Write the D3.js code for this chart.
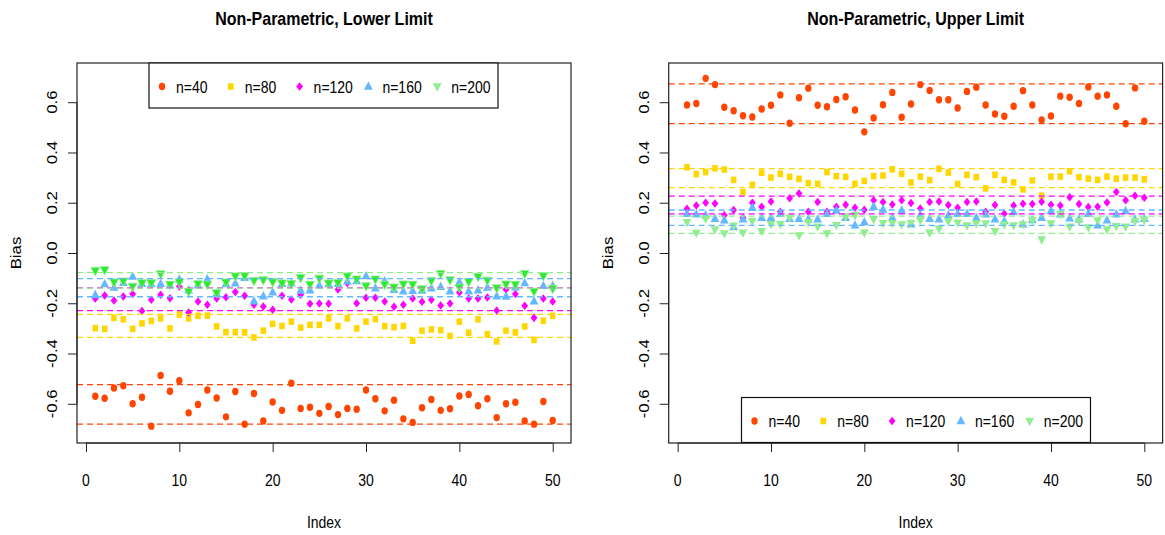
<!DOCTYPE html>
<html>
<head>
<meta charset="utf-8">
<script src="https://cdn.jsdelivr.net/npm/d3@7"></script>
<style>
  body { margin: 0; background: #fff; }
  text { font-family: "Liberation Sans", Arial, Helvetica, sans-serif; fill: #000; }
</style>
</head>
<body>
<svg id="chart" width="1165" height="535"></svg>
<script>
// ---- data ----
const indexValues = d3.range(1, 51);
const seriesNames = ["n=40", "n=80", "n=120", "n=160", "n=200"];
const xTicks = [0, 10, 20, 30, 40, 50];
const yTicks = [-0.6, -0.4, -0.2, 0.0, 0.2, 0.4, 0.6];

// Lower limit bias by replicate
const lowerN40 = [-0.570,-0.578,-0.537,-0.528,-0.600,-0.574,-0.689,-0.487,-0.550,-0.508,
                  -0.636,-0.603,-0.545,-0.577,-0.652,-0.551,-0.681,-0.559,-0.668,-0.593,
                  -0.626,-0.518,-0.619,-0.614,-0.638,-0.611,-0.643,-0.619,-0.622,-0.545,
                  -0.580,-0.628,-0.586,-0.660,-0.674,-0.616,-0.583,-0.626,-0.620,-0.569,
                  -0.563,-0.608,-0.580,-0.655,-0.600,-0.594,-0.668,-0.681,-0.591,-0.666];
const lowerN80 = [-0.299,-0.302,-0.258,-0.264,-0.302,-0.280,-0.270,-0.260,-0.300,-0.245,
                  -0.260,-0.250,-0.249,-0.292,-0.315,-0.315,-0.316,-0.336,-0.309,-0.282,
                  -0.290,-0.273,-0.297,-0.286,-0.286,-0.260,-0.291,-0.260,-0.300,-0.273,
                  -0.263,-0.291,-0.295,-0.290,-0.349,-0.309,-0.304,-0.307,-0.330,-0.273,
                  -0.317,-0.264,-0.323,-0.352,-0.309,-0.316,-0.292,-0.346,-0.270,-0.250];
const lowerN120 = [-0.181,-0.169,-0.189,-0.173,-0.163,-0.231,-0.186,-0.166,-0.180,-0.133,
                   -0.237,-0.193,-0.206,-0.181,-0.176,-0.155,-0.170,-0.206,-0.213,-0.226,
                   -0.170,-0.185,-0.166,-0.202,-0.201,-0.202,-0.145,-0.119,-0.200,-0.178,
                   -0.178,-0.193,-0.214,-0.206,-0.181,-0.194,-0.186,-0.209,-0.201,-0.157,
                   -0.181,-0.181,-0.177,-0.229,-0.145,-0.163,-0.210,-0.258,-0.181,-0.193];
const lowerN160 = [-0.167,-0.124,-0.137,-0.119,-0.094,-0.123,-0.124,-0.123,-0.129,-0.105,
                   -0.148,-0.129,-0.104,-0.161,-0.124,-0.121,-0.099,-0.192,-0.172,-0.156,
                   -0.123,-0.121,-0.149,-0.148,-0.129,-0.124,-0.123,-0.113,-0.112,-0.092,
                   -0.140,-0.112,-0.146,-0.152,-0.150,-0.149,-0.140,-0.134,-0.152,-0.116,
                   -0.152,-0.148,-0.137,-0.172,-0.173,-0.136,-0.120,-0.192,-0.131,-0.131];
const lowerN200 = [-0.070,-0.067,-0.116,-0.112,-0.133,-0.119,-0.119,-0.083,-0.125,-0.115,
                   -0.153,-0.123,-0.125,-0.159,-0.116,-0.092,-0.091,-0.110,-0.107,-0.115,
                   -0.120,-0.122,-0.098,-0.125,-0.101,-0.120,-0.118,-0.092,-0.104,-0.131,
                   -0.104,-0.125,-0.136,-0.124,-0.125,-0.143,-0.110,-0.082,-0.107,-0.137,
                   -0.114,-0.094,-0.109,-0.139,-0.124,-0.125,-0.082,-0.153,-0.091,-0.141];

// Upper limit bias by replicate
const upperN40 = [0.589,0.595,0.695,0.670,0.580,0.566,0.546,0.541,0.573,0.588,
                  0.629,0.516,0.618,0.656,0.588,0.582,0.611,0.622,0.569,0.482,
                  0.537,0.590,0.639,0.540,0.593,0.670,0.647,0.610,0.610,0.577,
                  0.643,0.660,0.589,0.553,0.544,0.584,0.646,0.589,0.529,0.545,
                  0.624,0.620,0.595,0.661,0.624,0.629,0.584,0.514,0.657,0.524];
const upperN80 = [0.341,0.314,0.322,0.337,0.332,0.291,0.242,0.271,0.319,0.300,
                  0.315,0.303,0.295,0.278,0.275,0.322,0.306,0.303,0.275,0.287,
                  0.306,0.308,0.333,0.315,0.281,0.304,0.290,0.335,0.320,0.275,
                  0.311,0.302,0.257,0.311,0.291,0.281,0.253,0.289,0.228,0.304,
                  0.304,0.325,0.302,0.296,0.291,0.304,0.296,0.300,0.300,0.293];
const upperN120 = [0.176,0.189,0.200,0.197,0.150,0.171,0.140,0.200,0.184,0.205,
                   0.164,0.218,0.237,0.164,0.203,0.164,0.184,0.192,0.180,0.172,
                   0.210,0.203,0.193,0.210,0.199,0.177,0.203,0.205,0.191,0.180,
                   0.203,0.205,0.164,0.191,0.156,0.189,0.196,0.195,0.204,0.192,
                   0.189,0.222,0.195,0.183,0.184,0.201,0.243,0.210,0.228,0.220];
const upperN160 = [0.156,0.154,0.150,0.136,0.130,0.103,0.134,0.180,0.140,0.140,
                   0.156,0.136,0.136,0.134,0.134,0.156,0.169,0.140,0.110,0.123,
                   0.184,0.173,0.140,0.169,0.114,0.150,0.136,0.134,0.150,0.156,
                   0.156,0.140,0.154,0.134,0.127,0.163,0.114,0.131,0.140,0.167,
                   0.154,0.138,0.134,0.156,0.110,0.130,0.154,0.167,0.134,0.136];
const upperN200 = [0.123,0.080,0.136,0.094,0.078,0.109,0.081,0.127,0.087,0.115,
                   0.115,0.140,0.070,0.123,0.105,0.078,0.111,0.144,0.150,0.081,
                   0.134,0.119,0.119,0.114,0.119,0.131,0.081,0.097,0.127,0.121,
                   0.110,0.118,0.118,0.087,0.114,0.110,0.114,0.130,0.054,0.118,
                   0.154,0.105,0.127,0.102,0.130,0.094,0.107,0.105,0.127,0.132];

// Reference bands (two dashed lines per sample size)
const lowerBands = [[-0.524, -0.681], [-0.244, -0.336], [-0.139, -0.229], [-0.102, -0.174], [-0.078, -0.140]];
const upperBands = [[0.673, 0.515], [0.336, 0.260], [0.226, 0.156], [0.171, 0.110], [0.147, 0.078]];

// ---- styling ----
const colors = ["#FF4500", "#FFD700", "#FF00FF", "#63B8FF", "#90EE90"];
const STRETCH = 1.2;   // vertical aspect of glyphs and markers

// marker outlines centred on the origin
const markerPaths = [
  "M-3.2,0a3.2,3.7 0 1,0 6.4,0a3.2,3.7 0 1,0 -6.4,0Z",
  "M-2.8,-3.3h5.6v6.6h-5.6Z",
  "M0,-4.3L3.4,0L0,4.3L-3.4,0Z",
  "M0,-5.2L4.4,3.2L-4.4,3.2Z",
  "M0,5.2L4.4,-3.2L-4.4,-3.2Z"
];

const svg = d3.select("#chart");

function stretchedText(g, x, y, str, opts = {}) {
  const rot = opts.rotate ? " rotate(-90)" : "";
  return g.append("text")
    .attr("transform", `translate(${x},${y}) scale(1,${STRETCH})${rot}`)
    .attr("text-anchor", opts.anchor || "middle")
    .attr("font-size", opts.size || 14)
    .attr("font-weight", opts.bold ? "bold" : "normal")
    .text(str);
}

function drawPanel(cfg) {
  const g = svg.append("g");
  const x = d3.scaleLinear().domain([-0.96, 51.96]).range([cfg.left, cfg.right]);
  const y = d3.scaleLinear().domain([-0.756, 0.756]).range([cfg.bottom, cfg.top]);

  // points
  cfg.series.forEach((vals, s) => {
    g.append("g").selectAll("path")
      .data(vals)
      .join("path")
      .attr("d", markerPaths[s])
      .attr("transform", (d, i) => `translate(${x(indexValues[i])},${y(d)})`)
      .attr("fill", s === 4 && cfg.greenFill ? cfg.greenFill : colors[s])
      .attr("stroke", s === 4 && cfg.greenFill ? colors[4] : "none")
      .attr("stroke-width", 0.8);
  });

  // dashed reference lines
  cfg.bands.forEach((pair, s) => {
    g.append("g").selectAll("line")
      .data(pair)
      .join("line")
      .attr("x1", cfg.left).attr("x2", cfg.right)
      .attr("y1", d => y(d)).attr("y2", d => y(d))
      .attr("stroke", colors[s])
      .attr("stroke-width", 1.3)
      .attr("stroke-dasharray", "6,4");
  });

  // frame
  g.append("rect")
    .attr("x", cfg.left).attr("y", cfg.top)
    .attr("width", cfg.right - cfg.left).attr("height", cfg.bottom - cfg.top)
    .attr("fill", "none").attr("stroke", "#222").attr("stroke-width", 1.2);

  // x axis
  const xa = g.append("g")
    .attr("transform", `translate(0,${cfg.bottom})`)
    .call(d3.axisBottom(x).tickValues(xTicks).tickSize(9).tickFormat(d3.format("d")));
  xa.select(".domain").attr("d", `M${x(xTicks[0])},0H${x(xTicks[xTicks.length - 1])}`)
    .attr("stroke", "#222");
  xa.selectAll(".tick line").attr("stroke", "#222");
  xa.selectAll(".tick text").remove();
  xTicks.forEach(t => stretchedText(g, x(t), cfg.bottom + 43, String(t)));

  // y axis
  const ya = g.append("g")
    .attr("transform", `translate(${cfg.left},0)`)
    .call(d3.axisLeft(y).tickValues(yTicks).tickSize(9));
  ya.select(".domain").attr("d", `M0,${y(yTicks[0])}V${y(yTicks[yTicks.length - 1])}`)
    .attr("stroke", "#222");
  ya.selectAll(".tick line").attr("stroke", "#222");
  ya.selectAll(".tick text").remove();
  yTicks.forEach(t => stretchedText(g, cfg.left - 20, y(t), t.toFixed(1), { rotate: true }));

  // titles
  stretchedText(g, (cfg.left + cfg.right) / 2, 25, cfg.title, { size: 16, bold: true });
  stretchedText(g, (cfg.left + cfg.right) / 2, 528, "Index");
  stretchedText(g, cfg.left - 56, (cfg.top + cfg.bottom) / 2, "Bias", { rotate: true });

  // legend
  const lg = g.append("g").attr("transform", `translate(${cfg.legend[0]},${cfg.legend[1]})`);
  lg.append("rect").attr("width", 349).attr("height", 45)
    .attr("fill", "#fff").attr("stroke", "#111").attr("stroke-width", 1.2);
  seriesNames.forEach((name, s) => {
    const ox = 13 + s * 68.8;
    lg.append("path").attr("d", markerPaths[s])
      .attr("transform", `translate(${ox},23.5)`)
      .attr("fill", colors[s]);
    stretchedText(lg, ox + 14, 29.5, name, { anchor: "start" });
  });
}

drawPanel({
  left: 77, right: 571, top: 63, bottom: 443,
  title: "Non-Parametric, Lower Limit",
  series: [lowerN40, lowerN80, lowerN120, lowerN160, lowerN200],
  bands: lowerBands,
  greenFill: "#2EEA2E",
  legend: [149, 63]
});

drawPanel({
  left: 668.7, right: 1162.6, top: 63, bottom: 443,
  title: "Non-Parametric, Upper Limit",
  series: [upperN40, upperN80, upperN120, upperN160, upperN200],
  bands: upperBands,
  legend: [741.5, 397.5]
});
</script>
</body>
</html>
